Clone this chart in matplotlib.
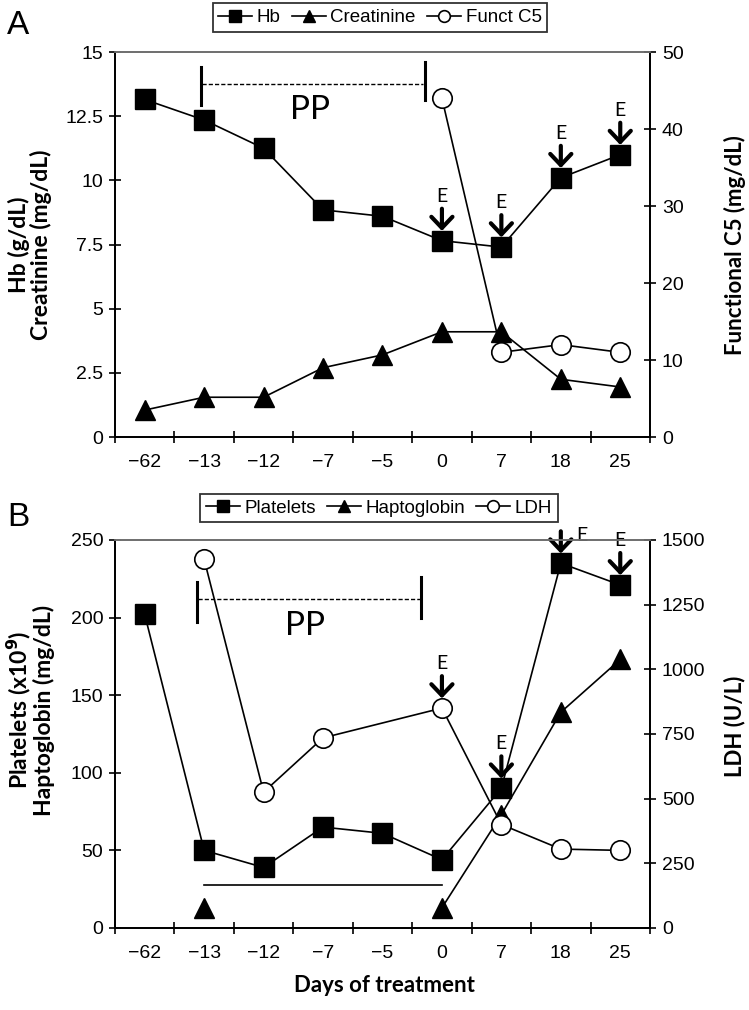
import numpy as np
import matplotlib
matplotlib.use('Agg')
import matplotlib.pyplot as plt

nan = np.nan

# categories (days of treatment)
days = ['\u221262', '\u221213', '\u221212', '\u22127', '\u22125', '0', '7', '18', '25']

# panel A
hb = [13.15, 12.35, 11.25, 8.85, 8.6, 7.65, 7.4, 10.1, 11.0]
creat = [1.05, 1.55, 1.55, 2.7, 3.2, 4.1, 4.1, 2.25, 1.95]
c5 = [nan, nan, nan, nan, nan, 44, 11, 12, 11]

# panel B
platelets = [202, 50, 39, 65, 61, 44, 90, 235, 221]
hapto = [nan, 13, nan, nan, nan, 13, 73, 139, 173]
ldh = [nan, 1425, 525, 735, nan, 850, 400, 305, 300]
hapto_bar = 28   # flat line for haptoglobin between -13 and 0

# E (eculizumab) doses
e_days_A = [5, 6, 7, 8]
e_days_B_plt = [6, 7, 8]
e_days_B_ldh = [5]

narrow = ['Liberation Sans Narrow', 'Liberation Sans', 'DejaVu Sans']
calib = ['Lato', 'DejaVu Sans']
plt.rcParams['font.family'] = narrow

x = np.arange(len(days))


def masked(vals):
    v = np.array(vals, dtype=float)
    m = ~np.isnan(v)
    return x[m], v[m]


def style(ax, ax2):
    ax.set_xlim(-0.5, len(days) - 0.5)
    ax.set_xticks(np.arange(-0.5, len(days)))
    ax.set_xticklabels([])
    ax.set_xticks(x, minor=True)
    ax.set_xticklabels(days, minor=True, fontsize=14)
    ax.tick_params(axis='x', which='major', direction='inout', length=9, width=1.2)
    ax.tick_params(axis='x', which='minor', length=0, pad=12)
    ax.tick_params(axis='y', direction='inout', length=9, width=1.2, labelsize=14, pad=4)
    ax2.tick_params(axis='y', direction='inout', length=9, width=1.2, labelsize=14, pad=4)
    for a in (ax, ax2):
        for s in ('left', 'right', 'bottom'):
            a.spines[s].set_linewidth(1.3)
        a.spines['top'].set_color('#707070')
        a.spines['top'].set_linewidth(1.3)


def mark_e(ax, i, v, ex=0, ey=32):
    ax.annotate('', xy=(i, v), xytext=(0, 23), textcoords='offset points',
                arrowprops=dict(arrowstyle='->,head_length=0.4,head_width=0.38',
                                lw=3.0, color='black', shrinkA=0, shrinkB=7,
                                mutation_scale=20),
                annotation_clip=False, zorder=5)
    ax.annotate('E', xy=(i, v), xytext=(ex, ey), textcoords='offset points',
                ha='center', va='center', fontsize=14, family=calib,
                annotation_clip=False)


fig = plt.figure(figsize=(7.49, 10.10), dpi=100)
axA = fig.add_axes([0.1535, 0.5673, 0.7143, 0.3812])
axA2 = axA.twinx()
axB = fig.add_axes([0.1535, 0.0812, 0.7143, 0.3842])
axB2 = axB.twinx()

lkw = dict(color='black', lw=1.2, mec='black')

# ---- panel A ----
hA, = axA.plot(*masked(hb), marker='s', ms=15, mfc='black', label='Hb', **lkw)
cA, = axA.plot(*masked(creat), marker='^', ms=14, mfc='black', label='Creatinine', **lkw)
fA, = axA2.plot(*masked(c5), marker='o', ms=14, mfc='white', mew=1.2, label='Funct C5', **lkw)
axA.set_ylim(0, 15)
axA.set_yticks([0, 2.5, 5, 7.5, 10, 12.5, 15])
axA.set_yticklabels(['0', '2.5', '5', '7.5', '10', '12.5', '15'])
axA2.set_ylim(0, 50)
axA2.set_yticks(range(0, 51, 10))
style(axA, axA2)

# PP bracket
axA.plot([0.95, 0.95], [12.93, 14.41], color='black', lw=2.2)
axA.plot([4.71, 4.71], [13.13, 14.61], color='black', lw=2.2)
axA.plot([0.97, 4.69], [13.75, 13.75], color='black', lw=1.0, ls=(0, (3, 1.5)))
axA.text(2.78, 12.74, 'PP', fontsize=24, family=calib, ha='center', va='center')

for i in e_days_A:
    mark_e(axA, i, hb[i])

# ---- panel B ----
hB, = axB.plot(*masked(platelets), marker='s', ms=15, mfc='black', label='Platelets', **lkw)
hx, hv = masked(hapto)
axB.plot(hx[1:], hv[1:], color='black', lw=1.2)
tB, = axB.plot(hx, hv, ls='none', marker='^', ms=14, mfc='black', mec='black', label='Haptoglobin')
axB.plot([1, 5], [hapto_bar, hapto_bar], color='black', lw=1.2)
lB, = axB2.plot(*masked(ldh), marker='o', ms=14, mfc='white', mew=1.2, label='LDH', **lkw)
axB.set_ylim(0, 250)
axB.set_yticks(range(0, 251, 50))
axB2.set_ylim(0, 1500)
axB2.set_yticks(range(0, 1501, 250))
style(axB, axB2)

axB.plot([0.875, 0.875], [197, 223], color='black', lw=2.2)
axB.plot([4.65, 4.65], [200, 226], color='black', lw=2.2)
axB.plot([0.89, 4.63], [212, 212], color='black', lw=1.0, ls=(0, (3, 1.5)))
axB.text(2.7, 194.5, 'PP', fontsize=24, family=calib, ha='center', va='center')

for i in e_days_B_plt:
    if i == 7:
        mark_e(axB, i, platelets[i], ex=15, ey=20)
    else:
        mark_e(axB, i, platelets[i])
for i in e_days_B_ldh:
    mark_e(axB2, i, ldh[i])

# legends
leg_kw = dict(ncol=3, frameon=True, fancybox=False, edgecolor='black', fontsize=13.5,
              handlelength=1.8, handletextpad=0.25, columnspacing=0.6,
              borderpad=0.3, markerscale=0.6, loc='center')
legA = fig.legend([hA, cA, fA], ['Hb', 'Creatinine', 'Funct C5'],
                  bbox_to_anchor=(380 / 749, 1 - 17.5 / 1010), **leg_kw)
legB = fig.legend([hB, tB, lB], ['Platelets', 'Haptoglobin', 'LDH'],
                  bbox_to_anchor=(379 / 749, 1 - 508 / 1010), **leg_kw)
for lg in (legA, legB):
    lg.get_frame().set_linewidth(1.3)
    lg.get_frame().set_boxstyle('square', pad=0)
# haptoglobin legend handle shows a line too
legB.legend_handles[1].set_linestyle('-')
legB.legend_handles[1].set_color('black')
legB.legend_handles[1].set_linewidth(1.2)

# axis labels
fig.text(30 / 749, 1 - 245 / 1010, 'Hb (g/dL)\nCreatinine (mg/dL)', rotation=90,
         ha='center', va='center', fontsize=16.5, fontweight='bold', family=calib,
         multialignment='center', linespacing=1.0)
fig.text(735 / 749, 1 - 245 / 1010, 'Functional C5 (mg/dL)', rotation=90,
         ha='center', va='center', fontsize=16, fontweight='bold', family=calib)
fig.text(30 / 749, 1 - 710 / 1010, 'Platelets (x10$^{\\mathbf{9}}$)\nHaptoglobin (mg/dL)',
         rotation=90, ha='center', va='center', fontsize=16.5, fontweight='bold',
         family=calib, multialignment='center', linespacing=1.0)
fig.text(735 / 749, 1 - 726 / 1010, 'LDH (U/L)', rotation=90,
         ha='center', va='center', fontsize=16, fontweight='bold', family=calib)
fig.text(384 / 749, 1 - 985 / 1010, 'Days of treatment', ha='center', va='center',
         fontsize=16, fontweight='bold', family=calib)

fig.text(18 / 749, 1 - 26 / 1010, 'A', ha='center', va='center', fontsize=24)
fig.text(18 / 749, 1 - 518 / 1010, 'B', ha='center', va='center', fontsize=24)

fig.savefig('out.png', dpi=100)
